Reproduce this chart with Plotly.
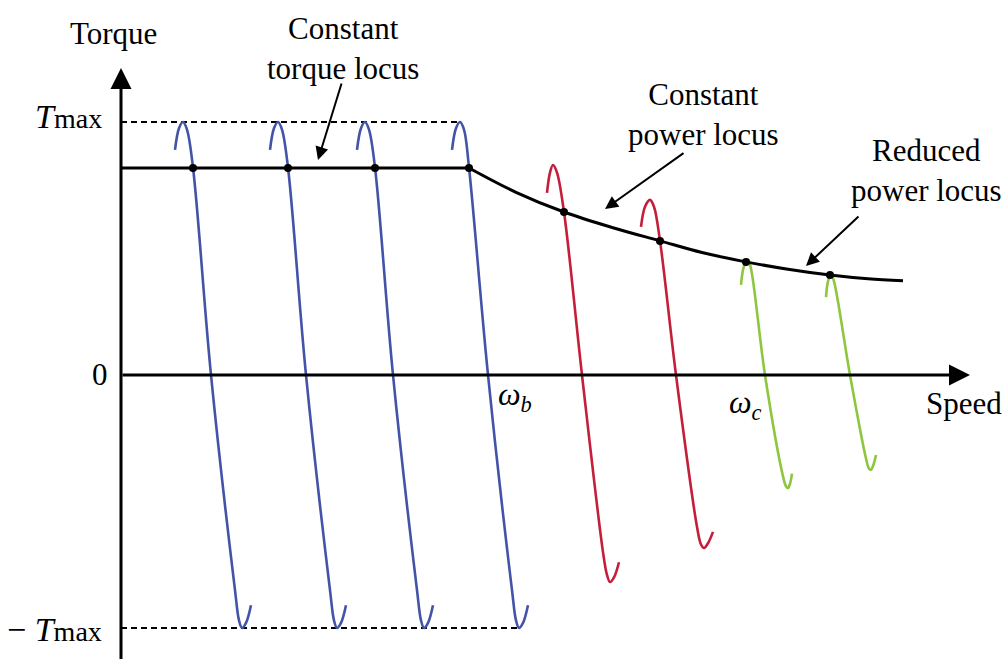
import plotly.graph_objects as go

# ---- data (speed in drawing units, torque normalised to T_max = 1) ----
blue_y = [0.89, 0.975, 1.0, 0.97, 0.82, 0.0, -0.85, -0.97, -1.0, -0.98, -0.91]
blue1_x = [54, 58, 62, 66, 72, 90, 114, 118, 121, 125, 130]
blue2_x = [149, 153, 157, 161, 167, 185, 209, 213, 216, 220, 225]
blue3_x = [236, 240, 244, 248, 254, 272, 296, 300, 303, 307, 312]
blue4_x = [331, 335, 339, 343, 348, 367, 391, 395, 398, 402, 407]

red1_x = [426, 429, 432, 436, 443, 461, 482, 486, 489, 493, 498]
red1_y = [0.72, 0.80, 0.83, 0.80, 0.644, 0.0, -0.70, -0.79, -0.818, -0.80, -0.74]
red2_x = [520, 524, 529, 533, 539, 555, 576, 580, 583, 587, 592]
red2_y = [0.585, 0.665, 0.692, 0.665, 0.530, 0.0, -0.60, -0.67, -0.684, -0.665, -0.62]

green1_x = [620, 623, 627, 630, 644, 662, 665, 667, 669, 671]
green1_y = [0.356, 0.43, 0.455, 0.42, 0.0, -0.40, -0.44, -0.447, -0.43, -0.39]
green2_x = [705, 707, 710, 713, 729, 745, 748, 750, 752, 755]
green2_y = [0.308, 0.37, 0.40, 0.37, 0.0, -0.33, -0.37, -0.375, -0.36, -0.316]

const_torque_x = [0, 348]
const_torque_y = [0.818, 0.818]
power_locus_x = [348, 395, 443, 491, 539, 581, 625, 667, 709, 747, 782]
power_locus_y = [0.818, 0.722, 0.644, 0.583, 0.530, 0.484, 0.447, 0.418, 0.395, 0.38, 0.372]

op_x = [72, 167, 254, 348, 443, 539, 625, 709]
op_y = [0.818, 0.818, 0.818, 0.818, 0.644, 0.530, 0.447, 0.395]

tmax_line_x = [0, 338]
tmin_line_x = [0, 398]

BLUE = "#4353a8"
RED = "#c41e3a"
GREEN = "#8dc63f"
FONT = "Times New Roman, Liberation Serif, DejaVu Serif, serif"

fig = go.Figure()

def add_line(x, y, color, width=2.6, shape="spline", dash=None):
    fig.add_trace(go.Scatter(x=x, y=y, mode="lines",
                             line=dict(color=color, width=width, shape=shape,
                                       smoothing=1.0 if shape == "spline" else None,
                                       dash=dash),
                             hoverinfo="skip", showlegend=False))

# dashed limits
add_line(tmax_line_x, [1.0, 1.0], "black", width=2, shape="linear", dash="6px,4px")
add_line(tmin_line_x, [-1.0, -1.0], "black", width=2, shape="linear", dash="6px,4px")

for bx in (blue1_x, blue2_x, blue3_x, blue4_x):
    add_line(bx, blue_y, BLUE)
add_line(red1_x, red1_y, RED)
add_line(red2_x, red2_y, RED)
add_line(green1_x, green1_y, GREEN)
add_line(green2_x, green2_y, GREEN)

# loci
add_line(const_torque_x, const_torque_y, "black", width=3, shape="linear")
add_line(power_locus_x, power_locus_y, "black", width=3, shape="spline")

fig.add_trace(go.Scatter(x=op_x, y=op_y, mode="markers",
                         marker=dict(color="black", size=8),
                         hoverinfo="skip", showlegend=False))

# axes with arrows
def arrow(x0, y0, x1, y1, width, head=2, size=1.0):
    fig.add_annotation(x=x1, y=y1, ax=x0, ay=y0, xref="x", yref="y",
                       axref="x", ayref="y", text="", showarrow=True,
                       arrowhead=head, arrowsize=size, arrowwidth=width,
                       arrowcolor="black", standoff=0, startstandoff=0)

arrow(0, -1.13, 0, 1.213, 3, head=2, size=1.4)
arrow(0, 0, 849, 0, 3, head=2, size=1.4)

# pointer arrows
arrow(221, 1.158, 197, 0.850, 2, head=2, size=1.3)
arrow(564, 0.881, 484, 0.656, 2, head=2, size=1.3)
arrow(739, 0.632, 685, 0.431, 2, head=2, size=1.3)

def label(x, y, text, size=31, xanchor="center", yanchor="middle"):
    fig.add_annotation(x=x, y=y, xref="x", yref="y", text=text, showarrow=False,
                       font=dict(family=FONT, size=size, color="black"),
                       xanchor=xanchor, yanchor=yanchor, align="center")

label(-8, 1.348, "Torque")
label(222, 1.292, "Constant<br>torque locus")
label(582, 1.03, "Constant<br>power locus")
label(805, 0.81, "Reduced<br>power locus")
label(-17, 1.02, "<i>T</i><span style='font-size:28px'>max</span>", size=34, xanchor="right")
label(-17, -1.005, "− <i>T</i><span style='font-size:28px'>max</span>", size=34, xanchor="right")
label(-21, 0.0, "0")
label(394, -0.087, "<i>ω<sub>b</sub></i>", size=32)
label(624, -0.115, "<i>ω<sub>c</sub></i>", size=32)
label(843, -0.111, "Speed")

fig.update_layout(
    width=1008, height=659,
    margin=dict(l=0, r=0, t=0, b=0),
    paper_bgcolor="white", plot_bgcolor="white",
    font=dict(family=FONT),
    xaxis=dict(range=[-121, 887], visible=False, fixedrange=True),
    yaxis=dict(range=[-1.1225, 1.482], visible=False, fixedrange=True),
    showlegend=False,
)

fig.write_html("out.html", config={"displayModeBar": False})
